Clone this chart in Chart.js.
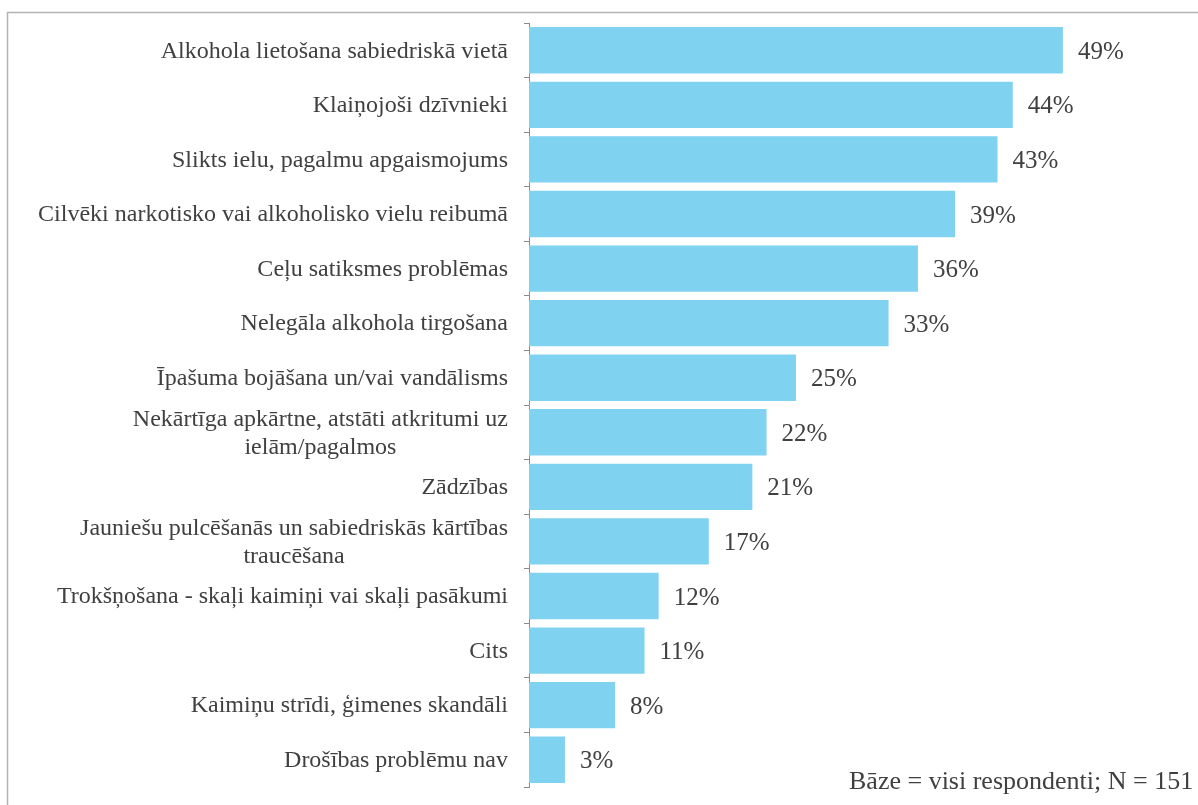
<!DOCTYPE html>
<html>
<head>
<meta charset="utf-8">
<script src="https://cdn.jsdelivr.net/npm/chart.js@4"></script>
<style>
  html, body { margin: 0; padding: 0; background: #fff; }
  #wrap { width: 1198px; height: 805px; position: relative; }
</style>
</head>
<body>
<div id="wrap"><canvas id="c" width="1198" height="805"></canvas></div>
<script>
const categories = [
  ['Alkohola lietošana sabiedriskā vietā'],
  ['Klaiņojoši dzīvnieki'],
  ['Slikts ielu, pagalmu apgaismojums'],
  ['Cilvēki narkotisko vai alkoholisko vielu reibumā'],
  ['Ceļu satiksmes problēmas'],
  ['Nelegāla alkohola tirgošana'],
  ['Īpašuma bojāšana un/vai vandālisms'],
  ['Nekārtīga apkārtne, atstāti atkritumi uz', 'ielām/pagalmos'],
  ['Zādzības'],
  ['Jauniešu pulcēšanās un sabiedriskās kārtības', 'traucēšana'],
  ['Trokšņošana - skaļi kaimiņi vai skaļi pasākumi'],
  ['Cits'],
  ['Kaimiņu strīdi, ģimenes skandāli'],
  ['Drošības problēmu nav'],
];
const shares = [49.0, 44.4, 43.0, 39.1, 35.7, 33.0, 24.5, 21.8, 20.5, 16.5, 11.9, 10.6, 7.9, 3.3];
const footnote = 'Bāze = visi respondenti; N = 151';

const textColor = '#404040';
const fontFamily = '"Liberation Serif", "Times New Roman", serif';

const decor = {
  id: 'decor',
  beforeDraw(chart) {
    const ctx = chart.ctx;
    ctx.save();
    ctx.strokeStyle = '#b3b3b3';
    ctx.lineWidth = 1.5;
    ctx.strokeRect(7.5, 12.5, 1400, 1000);
    ctx.restore();
  },
  afterDraw(chart) {
    const ctx = chart.ctx;
    const y = chart.scales.y;
    ctx.save();
    ctx.fillStyle = textColor;
    ctx.font = '24px ' + fontFamily;
    ctx.textBaseline = 'middle';
    const lh = 28;
    const right = y.right - 21;
    categories.forEach((lines, i) => {
      const cy = y.getPixelForValue(i) + 1;
      if (lines.length === 1) {
        ctx.textAlign = 'right';
        ctx.fillText(lines[0], right, cy);
      } else {
        const w = Math.max(...lines.map(l => ctx.measureText(l).width));
        const cx = right - w / 2;
        ctx.textAlign = 'center';
        lines.forEach((l, j) => {
          ctx.fillText(l, cx, cy + (j - (lines.length - 1) / 2) * lh);
        });
      }
    });
    // value labels
    const meta = chart.getDatasetMeta(0);
    ctx.textAlign = 'left';
    ctx.font = '25px ' + fontFamily;
    meta.data.forEach((bar, i) => {
      ctx.fillText(Math.round(shares[i]) + '%', bar.x + 15, bar.y + 2);
    });
    // footnote
    ctx.font = '26px ' + fontFamily;
    ctx.textAlign = 'left';
    ctx.fillText(footnote, 849, 782);
    ctx.restore();
  }
};

new Chart(document.getElementById('c'), {
  type: 'bar',
  data: {
    labels: categories,
    datasets: [{
      data: shares,
      backgroundColor: '#80d2f1',
      barPercentage: 0.85,
      categoryPercentage: 1,
    }],
  },
  options: {
    indexAxis: 'y',
    responsive: false,
    animation: false,
    layout: { padding: { top: 23, bottom: 18, left: 0, right: 0 } },
    plugins: { legend: { display: false }, tooltip: { enabled: false } },
    scales: {
      x: {
        display: false,
        min: 0,
        max: 61.4,
      },
      y: {
        afterFit: s => { s.width = 529; },
        border: { display: true, color: '#8c8c8c', width: 1 },
        grid: { drawOnChartArea: false, color: '#8c8c8c', tickLength: 5, offset: true },
        ticks: { color: 'rgba(0,0,0,0)', font: { size: 1 } },
      },
    },
  },
  plugins: [decor],
});
</script>
</body>
</html>
